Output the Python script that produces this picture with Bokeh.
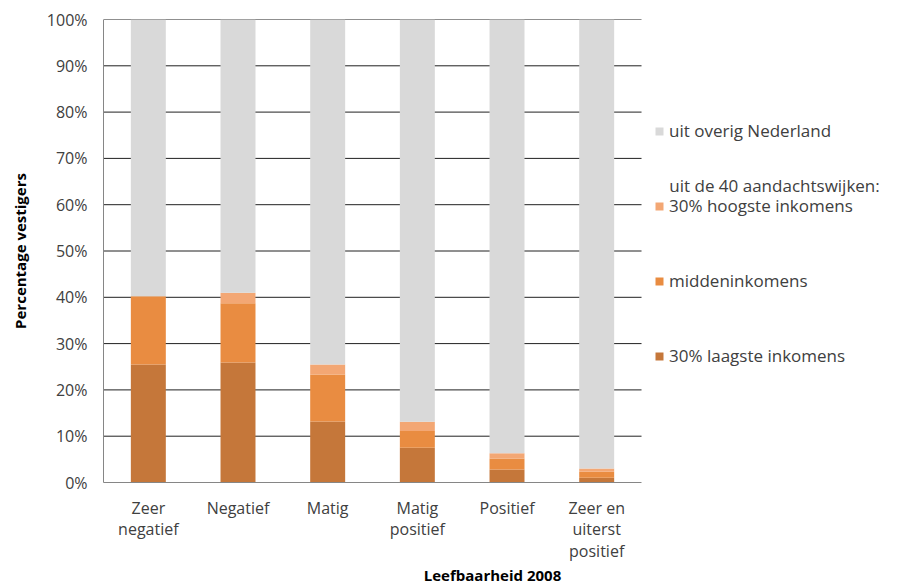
from bokeh.plotting import figure
from bokeh.models import (Legend, LegendItem, Label, PrintfTickFormatter, FixedTicker,
                          ColumnDataSource)
from bokeh.embed import file_html
from bokeh.resources import INLINE

categories = ["Zeer\nnegatief", "Negatief", "Matig", "Matig\npositief", "Positief",
              "Zeer en\nuiterst\npositief"]
laagste = [25.5, 25.9, 13.2, 7.5, 2.8, 1.0]
midden = [14.7, 12.8, 10.1, 3.6, 2.4, 1.3]
hoogste = [0.0, 2.3, 2.2, 2.0, 1.1, 0.7]
overig = [100 - a - b - c for a, b, c in zip(laagste, midden, hoogste)]
y_ticks = [0, 10, 20, 30, 40, 50, 60, 70, 80, 90, 100]

series = ["laagste", "midden", "hoogste", "overig"]
colors = ["#C5773A", "#E98C41", "#F3A774", "#D9D9D9"]
labels = {"overig": "uit overig Nederland", "hoogste": "30% hoogste inkomens",
          "midden": "middeninkomens", "laagste": "30% laagste inkomens"}
header_text = "uit de 40 aandachtswijken:"

n = len(categories)
xpos = list(range(1, n + 1))
data = dict(x=xpos, laagste=laagste, midden=midden, hoogste=hoogste, overig=overig)

FONT = "Open Sans"
CAT_W = 89.67          # pixels per category
FRAME_W = 778

p = figure(frame_width=FRAME_W, frame_height=463,
           x_range=(0.5, 0.5 + FRAME_W / CAT_W), y_range=(0, 100),
           output_backend="svg", toolbar_location=None,
           min_border_left=103, min_border_right=0, min_border_top=19, min_border_bottom=70)

# gridlines limited to the category area (drawn beneath the bars)
grid_src = ColumnDataSource(dict(y=y_ticks[1:], x0=[0.5] * (len(y_ticks) - 1),
                                 x1=[n + 0.5] * (len(y_ticks) - 1)))
p.segment(x0="x0", x1="x1", y0="y", y1="y", source=grid_src, line_color="#202020", line_width=1)

rends = p.vbar_stack(series, x="x", width=0.39, color=colors, source=data, line_width=0)
rmap = dict(zip(series, rends))

p.outline_line_color = None
p.xgrid.grid_line_color = None
p.ygrid.grid_line_color = None
p.yaxis.ticker = FixedTicker(ticks=y_ticks)
p.yaxis.formatter = PrintfTickFormatter(format="%d%%")
p.xaxis.ticker = FixedTicker(ticks=xpos)
p.xaxis.major_label_overrides = {x: c for x, c in zip(xpos, categories)}
p.xaxis.bounds = (0.5, n + 0.5)
p.yaxis.axis_line_color = "#868686"
p.xaxis.axis_line_color = "#868686"
for ax in (p.xaxis, p.yaxis):
    ax.major_tick_line_color = None
    ax.minor_tick_line_color = None
    ax.major_label_text_font = FONT
    ax.major_label_text_font_size = "16px"
    ax.major_label_text_color = "#404040"
    ax.axis_label_text_font = FONT
    ax.axis_label_text_font_size = "15px"
    ax.axis_label_text_font_style = "bold"
    ax.axis_label_text_color = "#000000"
p.yaxis.major_label_standoff = 10
p.xaxis.major_label_standoff = 8
p.xaxis.major_label_text_line_height = 0.98
p.yaxis.axis_label = "Percentage vestigers"
p.xaxis.axis_label = "Leefbaarheid 2008"
p.yaxis.axis_label_standoff = 14
p.xaxis.axis_label_standoff = 0

items = [LegendItem(label=labels[s], renderers=[rmap[s]]) for s in ["overig", "hoogste", "midden", "laagste"]]
legend = Legend(items=items, location=(551, 115), orientation="vertical",
                glyph_width=10, glyph_height=10, label_height=20, spacing=52,
                label_standoff=5, padding=0, margin=0, border_line_color=None,
                background_fill_alpha=0, label_text_font=FONT, label_text_font_size="17px",
                label_text_color="#404040")
p.add_layout(legend)

header = Label(x=n + 0.81, y=64.1, text=header_text,
               text_font=FONT, text_font_size="17px", text_color="#404040",
               text_baseline="middle")
p.add_layout(header)

open("out.html", "w").write(file_html(p, INLINE))
